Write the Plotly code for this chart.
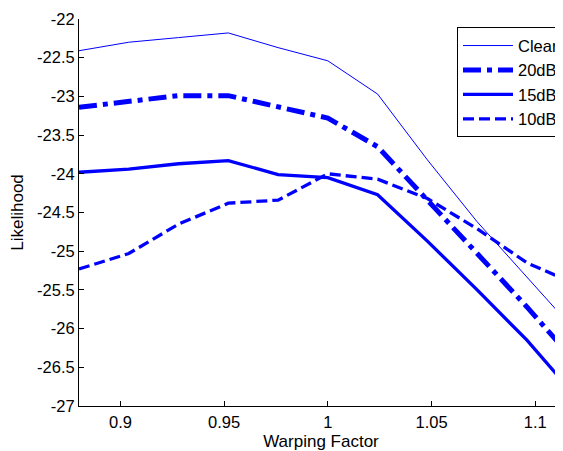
import plotly.graph_objects as go

warp = [0.88, 0.904, 0.928, 0.952, 0.976, 1.0, 1.024, 1.048, 1.072, 1.096, 1.12]
clear = [-22.41, -22.30, -22.24, -22.18, -22.37, -22.54, -22.97, -23.82, -24.62, -25.33, -26.05]
db20 = [-23.14, -23.07, -22.99, -22.99, -23.13, -23.28, -23.65, -24.33, -25.03, -25.72, -26.45]
db15 = [-23.98, -23.94, -23.87, -23.83, -24.01, -24.05, -24.27, -24.87, -25.50, -26.15, -26.89]
db10 = [-25.23, -25.03, -24.65, -24.38, -24.34, -24.00, -24.07, -24.32, -24.71, -25.15, -25.43]

x_ticks = [0.9, 0.95, 1.0, 1.05, 1.1]
x_tick_labels = ["0.9", "0.95", "1", "1.05", "1.1"]
y_ticks = [-22, -22.5, -23, -23.5, -24, -24.5, -25, -25.5, -26, -26.5, -27]
y_tick_labels = ["-22", "-22.5", "-23", "-23.5", "-24", "-24.5", "-25", "-25.5", "-26", "-26.5", "-27"]

BLUE = "#0000ff"
FONT = "Arial, Liberation Sans, sans-serif"

fig = go.Figure()
fig.add_trace(go.Scatter(x=warp, y=clear, mode="lines", name="Clear",
                         line=dict(color=BLUE, width=1)))
fig.add_trace(go.Scatter(x=warp, y=db20, mode="lines", name="20dB",
                         line=dict(color=BLUE, width=5, dash="18px,6px,5px,6px")))
fig.add_trace(go.Scatter(x=warp, y=db15, mode="lines", name="15dB",
                         line=dict(color=BLUE, width=3.3)))
fig.add_trace(go.Scatter(x=warp, y=db10, mode="lines", name="10dB",
                         line=dict(color=BLUE, width=3.3, dash="11px,5px")))

fig.update_layout(
    width=555, height=443,
    margin=dict(l=70.7, r=0, t=11.3, b=45.3, pad=0, autoexpand=False),
    paper_bgcolor="white", plot_bgcolor="white",
    font=dict(family=FONT, size=16.5, color="black"),
    showlegend=True,
    legend=dict(x=0.809, y=0.9564, xref="container", yref="container",
                xanchor="left", yanchor="top",
                bordercolor="black", borderwidth=1, bgcolor="white",
                font=dict(family=FONT, size=16.5), tracegroupgap=0,
                itemwidth=50),
)
fig.update_xaxes(range=[0.88, 1.1134], tickvals=x_ticks, ticktext=x_tick_labels,
                 ticks="inside", ticklen=5, tickcolor="black", showline=True,
                 linecolor="black", linewidth=1, showgrid=False, zeroline=False,
                 ticklabelstandoff=1,
                 title=dict(text="Warping Factor", standoff=10, font=dict(size=17)),
                 automargin=False)
fig.update_yaxes(range=[-27, -22], tickvals=y_ticks, ticktext=y_tick_labels,
                 ticks="inside", ticklen=5, tickcolor="black", showline=True,
                 linecolor="black", linewidth=1, showgrid=False, zeroline=False,
                 title=dict(text="Likelihood", standoff=20, font=dict(size=17)),
                 automargin=False)

fig.write_html("out.html")
